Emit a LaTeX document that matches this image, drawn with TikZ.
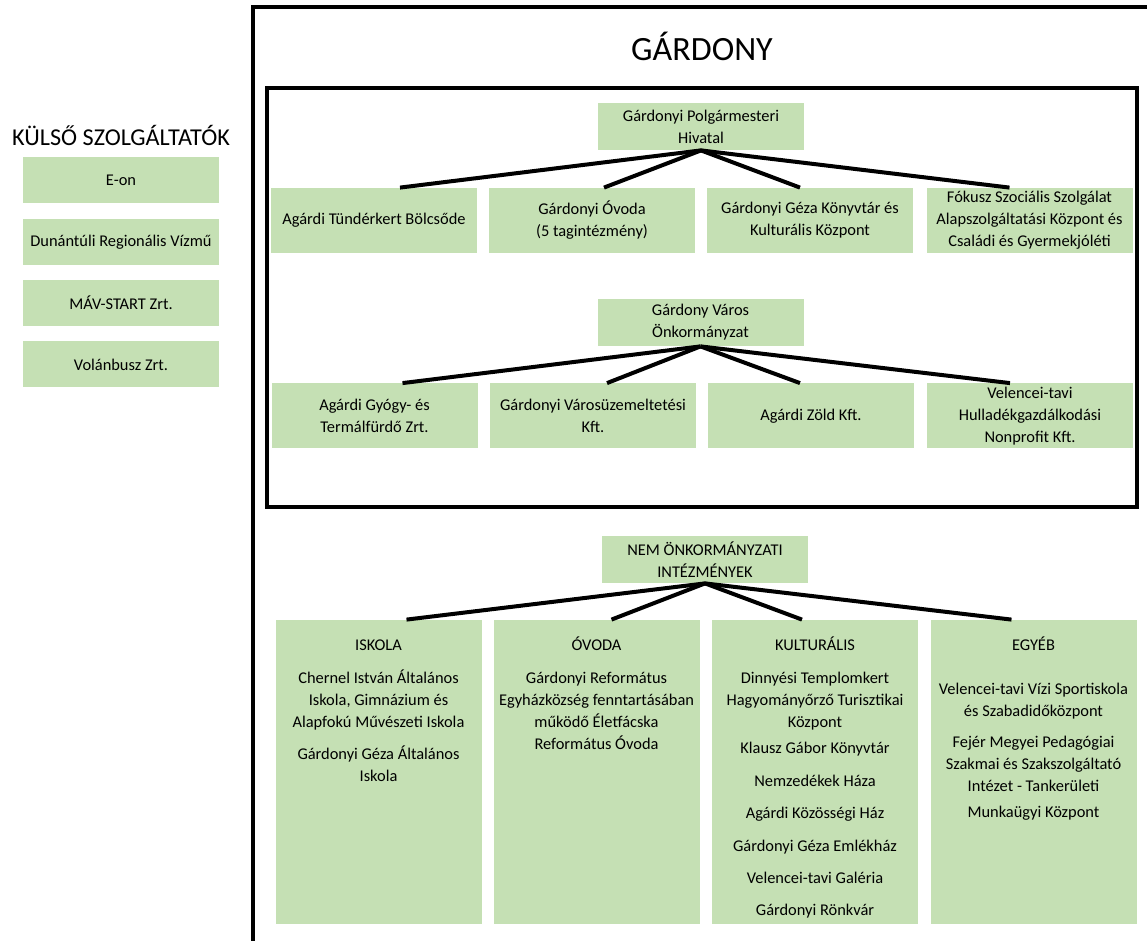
\documentclass[tikz,border=0pt]{standalone}
\usepackage{fontspec}
\setmainfont{Carlito}
\definecolor{boxgreen}{HTML}{C5E0B4}

\begin{document}
\begin{tikzpicture}[x=0.5pt, y=-0.5pt,
                box/.style={rectangle, fill=boxgreen, inner sep=0pt, align=center, font=\fontsize{8.2}{11}\selectfont},
                headbox/.style={box, minimum width=103pt, minimum height=23.5pt},
                unitbox/.style={box, minimum width=103pt, minimum height=32.5pt},
                groupbox/.style={box, minimum width=103pt, minimum height=152pt},
                extbox/.style={box, minimum width=98pt, minimum height=23pt},
                grouptext/.style={anchor=north, align=center, inner sep=0pt, font=\fontsize{8.2}{11}\selectfont},
                connector/.style={line width=2pt},
                frameline/.style={line width=1.6pt}
            ]
            \useasboundingbox (0,0) rectangle (1147,941);

            % Frames
            \draw[frameline] (253,945) -- (253,7) -- (1150,7);
            \draw[frameline] (267,88) rectangle (1137,507);
            \node[anchor=base, inner sep=0pt, font=\fontsize{17}{20}\selectfont] (title) at (702,61) {GÁRDONY};

            % External providers
            \node[anchor=base, inner sep=0pt, font=\fontsize{12.1}{14}\selectfont] (exttitle) at (121,146) {KÜLSŐ SZOLGÁLTATÓK};
            \node[extbox] (eon) at (121,180.5) {E-on};
            \node[extbox] (vizmu) at (121,242) {Dunántúli Regionális Vízmű};
            \node[extbox] (mav) at (121,303) {MÁV-START Zrt.};
            \node[extbox] (volan) at (121,364.5) {Volánbusz Zrt.};

            % Polgarmesteri Hivatal
            \node[headbox] (hivatal) at (701,126.5) {Gárdonyi Polgármesteri\\Hivatal};
            \node[unitbox] (bolcsode) at (374,220.5) {Agárdi Tündérkert Bölcsőde};
            \node[unitbox] (ovoda) at (592,220.5) {Gárdonyi Óvoda\\(5 tagintézmény)};
            \node[unitbox] (konyvtar) at (810,220.5) {Gárdonyi Géza Könyvtár és\\Kulturális Központ};
            \node[unitbox] (fokusz) at (1029.5,220.5) {Fókusz Szociális Szolgálat\\Alapszolgáltatási Központ és\\Családi és Gyermekjóléti};
            \draw[connector] (hivatal.south) -- ([xshift=13pt]bolcsode.north);
            \draw[connector] (hivatal.south) -- ([xshift=6pt]ovoda.north);
            \draw[connector] (hivatal.south) -- ([xshift=-5pt]konyvtar.north);
            \draw[connector] (hivatal.south) -- ([xshift=-10pt]fokusz.north);

            % Onkormanyzat
            \node[headbox] (onkorm) at (700.5,322.5) {Gárdony Város\\Önkormányzat};
            \node[unitbox] (furdo) at (374.5,416) {Agárdi Gyógy- és\\Termálfürdő Zrt.};
            \node[unitbox] (uzem) at (593,416) {Gárdonyi Városüzemeltetési\\Kft.};
            \node[unitbox] (zold) at (811,416) {Agárdi Zöld Kft.};
            \node[unitbox] (hullad) at (1030,416) {Velencei-tavi\\Hulladékgazdálkodási\\Nonprofit Kft.};
            \draw[connector] (onkorm.south) -- ([xshift=14pt]furdo.north);
            \draw[connector] (onkorm.south) -- ([xshift=7pt]uzem.north);
            \draw[connector] (onkorm.south) -- ([xshift=-5.5pt]zold.north);
            \draw[connector] (onkorm.south) -- ([xshift=-10pt]hullad.north);

            % Nem onkormanyzati intezmenyek
            \node[headbox] (nemonk) at (705,559.5) {NEM ÖNKORMÁNYZATI\\INTÉZMÉNYEK};
            \node[groupbox] (iskola) at (378.5,772) {};
            \node[groupbox] (ovodak) at (596.5,772) {};
            \node[groupbox] (kultura) at (815,772) {};
            \node[groupbox] (egyeb) at (1033.5,772) {};
            \draw[connector] (nemonk.south) -- ([xshift=14pt]iskola.north);
            \draw[connector] (nemonk.south) -- ([xshift=7.5pt]ovodak.north);
            \draw[connector] (nemonk.south) -- ([xshift=-6.5pt]kultura.north);
            \draw[connector] (nemonk.south) -- ([xshift=-11pt]egyeb.north);

            \node[grouptext] (iskolatext) at (iskola.center |- 0,634) {\rule{0pt}{8pt}ISKOLA\\[5.5pt]
                    Chernel István Általános\\Iskola, Gimnázium és\\Alapfokú Művészeti Iskola\\[4.8pt]
                    Gárdonyi Géza Általános\\Iskola};
            \node[grouptext] (ovodaktext) at (ovodak.center |- 0,634) {\rule{0pt}{8pt}ÓVODA\\[5.5pt]
                    Gárdonyi Református\\Egyházközség fenntartásában\\működő Életfácska\\Református Óvoda};
            \node[grouptext] (kulturatext) at (kultura.center |- 0,634) {\rule{0pt}{8pt}KULTURÁLIS\\[5.5pt]
                    Dinnyési Templomkert\\Hagyományőrző Turisztikai\\Központ\\[2.2pt]
                    Klausz Gábor Könyvtár\\[5.2pt]
                    Nemzedékek Háza\\[5.2pt]
                    Agárdi Közösségi Ház\\[5.2pt]
                    Gárdonyi Géza Emlékház\\[5.2pt]
                    Velencei-tavi Galéria\\[5.2pt]
                    Gárdonyi Rönkvár};
            \node[grouptext] (egyebtext) at (egyeb.center |- 0,634) {\rule{0pt}{8pt}EGYÉB\\[11.2pt]
                    Velencei-tavi Vízi Sportiskola\\és Szabadidőközpont\\[4.5pt]
                    Fejér Megyei Pedagógiai\\Szakmai és Szakszolgáltató\\Intézet - Tankerületi\\[2pt]
                    Munkaügyi Központ};

        \end{tikzpicture}
\end{document}
